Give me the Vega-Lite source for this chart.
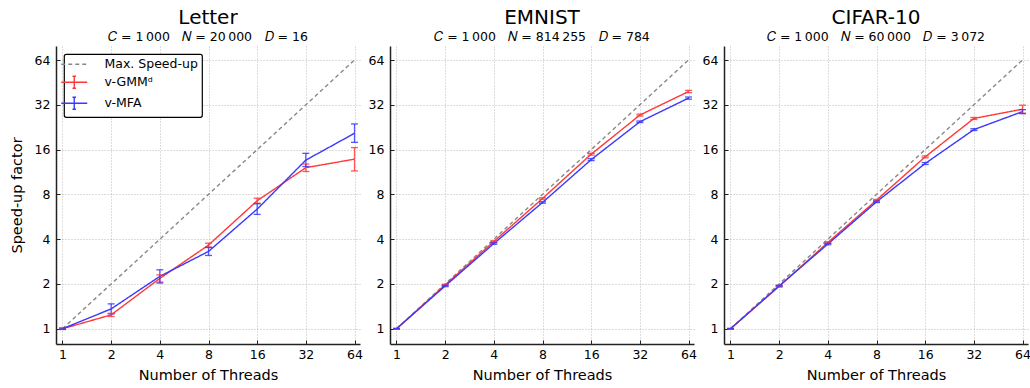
{
  "$schema": "https://vega.github.io/schema/vega-lite/v6.json",
  "background": "white",
  "padding": {"left": 9, "top": 7, "right": 0, "bottom": 0},
  "spacing": 5,
  "datasets": {
    "speed": [
      {"dataset": "ideal", "method": "Max. Speed-up", "threads": 1, "speedup": 1},
      {"dataset": "ideal", "method": "Max. Speed-up", "threads": 2, "speedup": 2},
      {"dataset": "ideal", "method": "Max. Speed-up", "threads": 4, "speedup": 4},
      {"dataset": "ideal", "method": "Max. Speed-up", "threads": 8, "speedup": 8},
      {"dataset": "ideal", "method": "Max. Speed-up", "threads": 16, "speedup": 16},
      {"dataset": "ideal", "method": "Max. Speed-up", "threads": 32, "speedup": 32},
      {"dataset": "ideal", "method": "Max. Speed-up", "threads": 64, "speedup": 64},

      {"dataset": "Letter", "method": "v-GMMᵈ", "threads": 1, "speedup": 1, "lo": 0.99, "hi": 1.01},
      {"dataset": "Letter", "method": "v-GMMᵈ", "threads": 2, "speedup": 1.24, "lo": 1.21, "hi": 1.27},
      {"dataset": "Letter", "method": "v-GMMᵈ", "threads": 4, "speedup": 2.18, "lo": 2.06, "hi": 2.30},
      {"dataset": "Letter", "method": "v-GMMᵈ", "threads": 8, "speedup": 3.65, "lo": 3.54, "hi": 3.76},
      {"dataset": "Letter", "method": "v-GMMᵈ", "threads": 16, "speedup": 7.25, "lo": 6.97, "hi": 7.54},
      {"dataset": "Letter", "method": "v-GMMᵈ", "threads": 32, "speedup": 12.1, "lo": 11.4, "hi": 12.8},
      {"dataset": "Letter", "method": "v-GMMᵈ", "threads": 64, "speedup": 13.8, "lo": 11.5, "hi": 16.5},
      {"dataset": "Letter", "method": "v-MFA", "threads": 1, "speedup": 1, "lo": 0.99, "hi": 1.01},
      {"dataset": "Letter", "method": "v-MFA", "threads": 2, "speedup": 1.36, "lo": 1.26, "hi": 1.47},
      {"dataset": "Letter", "method": "v-MFA", "threads": 4, "speedup": 2.25, "lo": 2.03, "hi": 2.49},
      {"dataset": "Letter", "method": "v-MFA", "threads": 8, "speedup": 3.31, "lo": 3.11, "hi": 3.52},
      {"dataset": "Letter", "method": "v-MFA", "threads": 16, "speedup": 6.37, "lo": 5.87, "hi": 6.92},
      {"dataset": "Letter", "method": "v-MFA", "threads": 32, "speedup": 13.6, "lo": 12.3, "hi": 15.1},
      {"dataset": "Letter", "method": "v-MFA", "threads": 64, "speedup": 20.6, "lo": 17.9, "hi": 23.8},

      {"dataset": "EMNIST", "method": "v-GMMᵈ", "threads": 1, "speedup": 1, "lo": 0.995, "hi": 1.005},
      {"dataset": "EMNIST", "method": "v-GMMᵈ", "threads": 2, "speedup": 1.97, "lo": 1.95, "hi": 1.99},
      {"dataset": "EMNIST", "method": "v-GMMᵈ", "threads": 4, "speedup": 3.86, "lo": 3.82, "hi": 3.90},
      {"dataset": "EMNIST", "method": "v-GMMᵈ", "threads": 8, "speedup": 7.51, "lo": 7.43, "hi": 7.59},
      {"dataset": "EMNIST", "method": "v-GMMᵈ", "threads": 16, "speedup": 14.9, "lo": 14.7, "hi": 15.1},
      {"dataset": "EMNIST", "method": "v-GMMᵈ", "threads": 32, "speedup": 27.3, "lo": 26.9, "hi": 27.7},
      {"dataset": "EMNIST", "method": "v-GMMᵈ", "threads": 64, "speedup": 39.3, "lo": 38.6, "hi": 40.0},
      {"dataset": "EMNIST", "method": "v-MFA", "threads": 1, "speedup": 1, "lo": 0.995, "hi": 1.005},
      {"dataset": "EMNIST", "method": "v-MFA", "threads": 2, "speedup": 1.94, "lo": 1.92, "hi": 1.96},
      {"dataset": "EMNIST", "method": "v-MFA", "threads": 4, "speedup": 3.74, "lo": 3.70, "hi": 3.78},
      {"dataset": "EMNIST", "method": "v-MFA", "threads": 8, "speedup": 7.06, "lo": 6.98, "hi": 7.14},
      {"dataset": "EMNIST", "method": "v-MFA", "threads": 16, "speedup": 13.7, "lo": 13.5, "hi": 13.9},
      {"dataset": "EMNIST", "method": "v-MFA", "threads": 32, "speedup": 24.6, "lo": 24.3, "hi": 24.9},
      {"dataset": "EMNIST", "method": "v-MFA", "threads": 64, "speedup": 35.5, "lo": 34.9, "hi": 36.1},

      {"dataset": "CIFAR-10", "method": "v-GMMᵈ", "threads": 1, "speedup": 1, "lo": 0.995, "hi": 1.005},
      {"dataset": "CIFAR-10", "method": "v-GMMᵈ", "threads": 2, "speedup": 1.93, "lo": 1.91, "hi": 1.95},
      {"dataset": "CIFAR-10", "method": "v-GMMᵈ", "threads": 4, "speedup": 3.80, "lo": 3.76, "hi": 3.84},
      {"dataset": "CIFAR-10", "method": "v-GMMᵈ", "threads": 8, "speedup": 7.32, "lo": 7.24, "hi": 7.40},
      {"dataset": "CIFAR-10", "method": "v-GMMᵈ", "threads": 16, "speedup": 14.3, "lo": 14.1, "hi": 14.5},
      {"dataset": "CIFAR-10", "method": "v-GMMᵈ", "threads": 32, "speedup": 25.9, "lo": 25.5, "hi": 26.3},
      {"dataset": "CIFAR-10", "method": "v-GMMᵈ", "threads": 64, "speedup": 29.9, "lo": 28.1, "hi": 31.8},
      {"dataset": "CIFAR-10", "method": "v-MFA", "threads": 1, "speedup": 1, "lo": 0.995, "hi": 1.005},
      {"dataset": "CIFAR-10", "method": "v-MFA", "threads": 2, "speedup": 1.94, "lo": 1.92, "hi": 1.96},
      {"dataset": "CIFAR-10", "method": "v-MFA", "threads": 4, "speedup": 3.71, "lo": 3.67, "hi": 3.75},
      {"dataset": "CIFAR-10", "method": "v-MFA", "threads": 8, "speedup": 7.13, "lo": 7.05, "hi": 7.21},
      {"dataset": "CIFAR-10", "method": "v-MFA", "threads": 16, "speedup": 12.9, "lo": 12.7, "hi": 13.1},
      {"dataset": "CIFAR-10", "method": "v-MFA", "threads": 32, "speedup": 21.8, "lo": 21.5, "hi": 22.1},
      {"dataset": "CIFAR-10", "method": "v-MFA", "threads": 64, "speedup": 28.8, "lo": 27.9, "hi": 29.7}
    ]
  },
  "hconcat": [
    {
      "width": 304, "height": 298,
      "title": {"text": "Letter", "subtitle": "\ud835\udc36 = 1\u2009000\u2003\ud835\udc41 = 20\u2009000\u2003\ud835\udc37 = 16"},
      "data": {"name": "speed"},
      "transform": [{"filter": "datum.dataset === 'Letter' || datum.dataset === 'ideal'"}],
      "layer": [
        {
          "mark": {"type": "line", "strokeWidth": 1.4},
          "encoding": {
            "x": {"field": "threads", "type": "quantitative", "title": "Number of Threads", "scale": {"type": "log", "base": 2, "domain": [0.9116, 69.2], "nice": false}, "axis": {"values": [1, 2, 4, 8, 16, 32, 64], "format": "d"}},
            "y": {"field": "speedup", "type": "quantitative", "title": "Speed-up factor", "scale": {"type": "log", "base": 2, "domain": [0.79, 79.5], "nice": false}, "axis": {"values": [1, 2, 4, 8, 16, 32, 64], "format": "d"}},
            "color": {"field": "method", "type": "nominal", "scale": {"domain": ["Max. Speed-up", "v-GMMᵈ", "v-MFA"], "range": ["#888888", "#ff3838", "#3838ff"]},
              "legend": {
                "orient": "top-left", "offset": 8, "title": null,
                "fillColor": "white", "strokeColor": "black", "cornerRadius": 2, "padding": 4,
                "labelFontSize": 12.5, "labelFont": "DejaVu Sans", "labelColor": "black",
                "symbolSize": 100, "symbolStrokeWidth": 1.4, "labelOffset": 24, "rowPadding": 2,
                "encode": {
                  "legend": {"update": {"strokeWidth": {"value": 1.2}}},
                  "symbols": {"update": {
                    "shape": {"signal": "datum.value === 'Max. Speed-up' ? 'M-2.6,0H2.6' : 'M-2.6,0H2.6M0,-1.2V1.2M-0.35,-1.2H0.35M-0.35,1.2H0.35'"},
                    "strokeDash": {"signal": "datum.value === 'Max. Speed-up' ? [3,3] : [1,0]"}
                  }}
                }
              }},
            "strokeDash": {"field": "method", "type": "nominal", "scale": {"domain": ["Max. Speed-up", "v-GMMᵈ", "v-MFA"], "range": [[4, 3], [1, 0], [1, 0]]}, "legend": null}
          }
        },
        {
          "transform": [{"filter": "datum.method !== 'Max. Speed-up'"}],
          "mark": {"type": "rule", "strokeWidth": 1.3, "opacity": 0.85},
          "encoding": {
            "x": {"field": "threads", "type": "quantitative"},
            "y": {"field": "lo", "type": "quantitative"},
            "y2": {"field": "hi"},
            "color": {"field": "method", "type": "nominal"}
          }
        },
        {
          "transform": [{"filter": "datum.method !== 'Max. Speed-up'"}],
          "mark": {"type": "tick", "orient": "horizontal", "size": 7, "thickness": 1.3, "opacity": 0.85},
          "encoding": {
            "x": {"field": "threads", "type": "quantitative"},
            "y": {"field": "lo", "type": "quantitative"},
            "color": {"field": "method", "type": "nominal"}
          }
        },
        {
          "transform": [{"filter": "datum.method !== 'Max. Speed-up'"}],
          "mark": {"type": "tick", "orient": "horizontal", "size": 7, "thickness": 1.3, "opacity": 0.85},
          "encoding": {
            "x": {"field": "threads", "type": "quantitative"},
            "y": {"field": "hi", "type": "quantitative"},
            "color": {"field": "method", "type": "nominal"}
          }
        }
      ]
    },
    {
      "width": 304, "height": 298,
      "title": {"text": "EMNIST", "subtitle": "\ud835\udc36 = 1\u2009000\u2003\ud835\udc41 = 814\u2009255\u2003\ud835\udc37 = 784"},
      "data": {"name": "speed"},
      "transform": [{"filter": "datum.dataset === 'EMNIST' || datum.dataset === 'ideal'"}],
      "layer": [
        {
          "mark": {"type": "line", "strokeWidth": 1.4},
          "encoding": {
            "x": {"field": "threads", "type": "quantitative", "title": "Number of Threads", "scale": {"type": "log", "base": 2, "domain": [0.9116, 69.2], "nice": false}, "axis": {"values": [1, 2, 4, 8, 16, 32, 64], "format": "d"}},
            "y": {"field": "speedup", "type": "quantitative", "title": null, "scale": {"type": "log", "base": 2, "domain": [0.79, 79.5], "nice": false}, "axis": {"values": [1, 2, 4, 8, 16, 32, 64], "format": "d"}},
            "color": {"field": "method", "type": "nominal", "scale": {"domain": ["Max. Speed-up", "v-GMMᵈ", "v-MFA"], "range": ["#888888", "#ff3838", "#3838ff"]}, "legend": null},
            "strokeDash": {"field": "method", "type": "nominal", "scale": {"domain": ["Max. Speed-up", "v-GMMᵈ", "v-MFA"], "range": [[4, 3], [1, 0], [1, 0]]}, "legend": null}
          }
        },
        {
          "transform": [{"filter": "datum.method !== 'Max. Speed-up'"}],
          "mark": {"type": "rule", "strokeWidth": 1.3, "opacity": 0.85},
          "encoding": {
            "x": {"field": "threads", "type": "quantitative"},
            "y": {"field": "lo", "type": "quantitative"},
            "y2": {"field": "hi"},
            "color": {"field": "method", "type": "nominal", "legend": null}
          }
        },
        {
          "transform": [{"filter": "datum.method !== 'Max. Speed-up'"}],
          "mark": {"type": "tick", "orient": "horizontal", "size": 7, "thickness": 1.3, "opacity": 0.85},
          "encoding": {
            "x": {"field": "threads", "type": "quantitative"},
            "y": {"field": "lo", "type": "quantitative"},
            "color": {"field": "method", "type": "nominal", "legend": null}
          }
        },
        {
          "transform": [{"filter": "datum.method !== 'Max. Speed-up'"}],
          "mark": {"type": "tick", "orient": "horizontal", "size": 7, "thickness": 1.3, "opacity": 0.85},
          "encoding": {
            "x": {"field": "threads", "type": "quantitative"},
            "y": {"field": "hi", "type": "quantitative"},
            "color": {"field": "method", "type": "nominal", "legend": null}
          }
        }
      ]
    },
    {
      "width": 304, "height": 298,
      "title": {"text": "CIFAR-10", "subtitle": "\ud835\udc36 = 1\u2009000\u2003\ud835\udc41 = 60\u2009000\u2003\ud835\udc37 = 3\u2009072"},
      "data": {"name": "speed"},
      "transform": [{"filter": "datum.dataset === 'CIFAR-10' || datum.dataset === 'ideal'"}],
      "layer": [
        {
          "mark": {"type": "line", "strokeWidth": 1.4},
          "encoding": {
            "x": {"field": "threads", "type": "quantitative", "title": "Number of Threads", "scale": {"type": "log", "base": 2, "domain": [0.9116, 69.2], "nice": false}, "axis": {"values": [1, 2, 4, 8, 16, 32, 64], "format": "d"}},
            "y": {"field": "speedup", "type": "quantitative", "title": null, "scale": {"type": "log", "base": 2, "domain": [0.79, 79.5], "nice": false}, "axis": {"values": [1, 2, 4, 8, 16, 32, 64], "format": "d"}},
            "color": {"field": "method", "type": "nominal", "scale": {"domain": ["Max. Speed-up", "v-GMMᵈ", "v-MFA"], "range": ["#888888", "#ff3838", "#3838ff"]}, "legend": null},
            "strokeDash": {"field": "method", "type": "nominal", "scale": {"domain": ["Max. Speed-up", "v-GMMᵈ", "v-MFA"], "range": [[4, 3], [1, 0], [1, 0]]}, "legend": null}
          }
        },
        {
          "transform": [{"filter": "datum.method !== 'Max. Speed-up'"}],
          "mark": {"type": "rule", "strokeWidth": 1.3, "opacity": 0.85},
          "encoding": {
            "x": {"field": "threads", "type": "quantitative"},
            "y": {"field": "lo", "type": "quantitative"},
            "y2": {"field": "hi"},
            "color": {"field": "method", "type": "nominal", "legend": null}
          }
        },
        {
          "transform": [{"filter": "datum.method !== 'Max. Speed-up'"}],
          "mark": {"type": "tick", "orient": "horizontal", "size": 7, "thickness": 1.3, "opacity": 0.85},
          "encoding": {
            "x": {"field": "threads", "type": "quantitative"},
            "y": {"field": "lo", "type": "quantitative"},
            "color": {"field": "method", "type": "nominal", "legend": null}
          }
        },
        {
          "transform": [{"filter": "datum.method !== 'Max. Speed-up'"}],
          "mark": {"type": "tick", "orient": "horizontal", "size": 7, "thickness": 1.3, "opacity": 0.85},
          "encoding": {
            "x": {"field": "threads", "type": "quantitative"},
            "y": {"field": "hi", "type": "quantitative"},
            "color": {"field": "method", "type": "nominal", "legend": null}
          }
        }
      ]
    }
  ],
  "resolve": {"scale": {"color": "shared", "strokeDash": "shared"}},
  "config": {
    "font": "DejaVu Sans",
    "view": {"stroke": null},
    "title": {"fontSize": 20, "fontWeight": "normal", "color": "black", "subtitleFontSize": 12.5, "subtitleColor": "black", "subtitleFont": "DejaVu Sans", "font": "DejaVu Sans", "offset": 3, "subtitlePadding": 0, "anchor": "middle"},
    "axis": {
      "labelFont": "DejaVu Sans", "labelFontSize": 12.5, "labelColor": "black",
      "titleFont": "DejaVu Sans", "titleFontSize": 14.5, "titleFontWeight": "normal", "titleColor": "black",
      "ticks": true, "tickSize": -4, "tickColor": "#222222", "tickWidth": 1, "labelPadding": 10,
      "domainColor": "#222222", "domainWidth": 1.5,
      "grid": true, "gridColor": "#aaaaaa", "gridDash": [1, 2], "gridWidth": 0.8
    },
    "axisY": {"titlePadding": 10},
    "axisX": {"titlePadding": 8, "labelPadding": 8}
  }
}
